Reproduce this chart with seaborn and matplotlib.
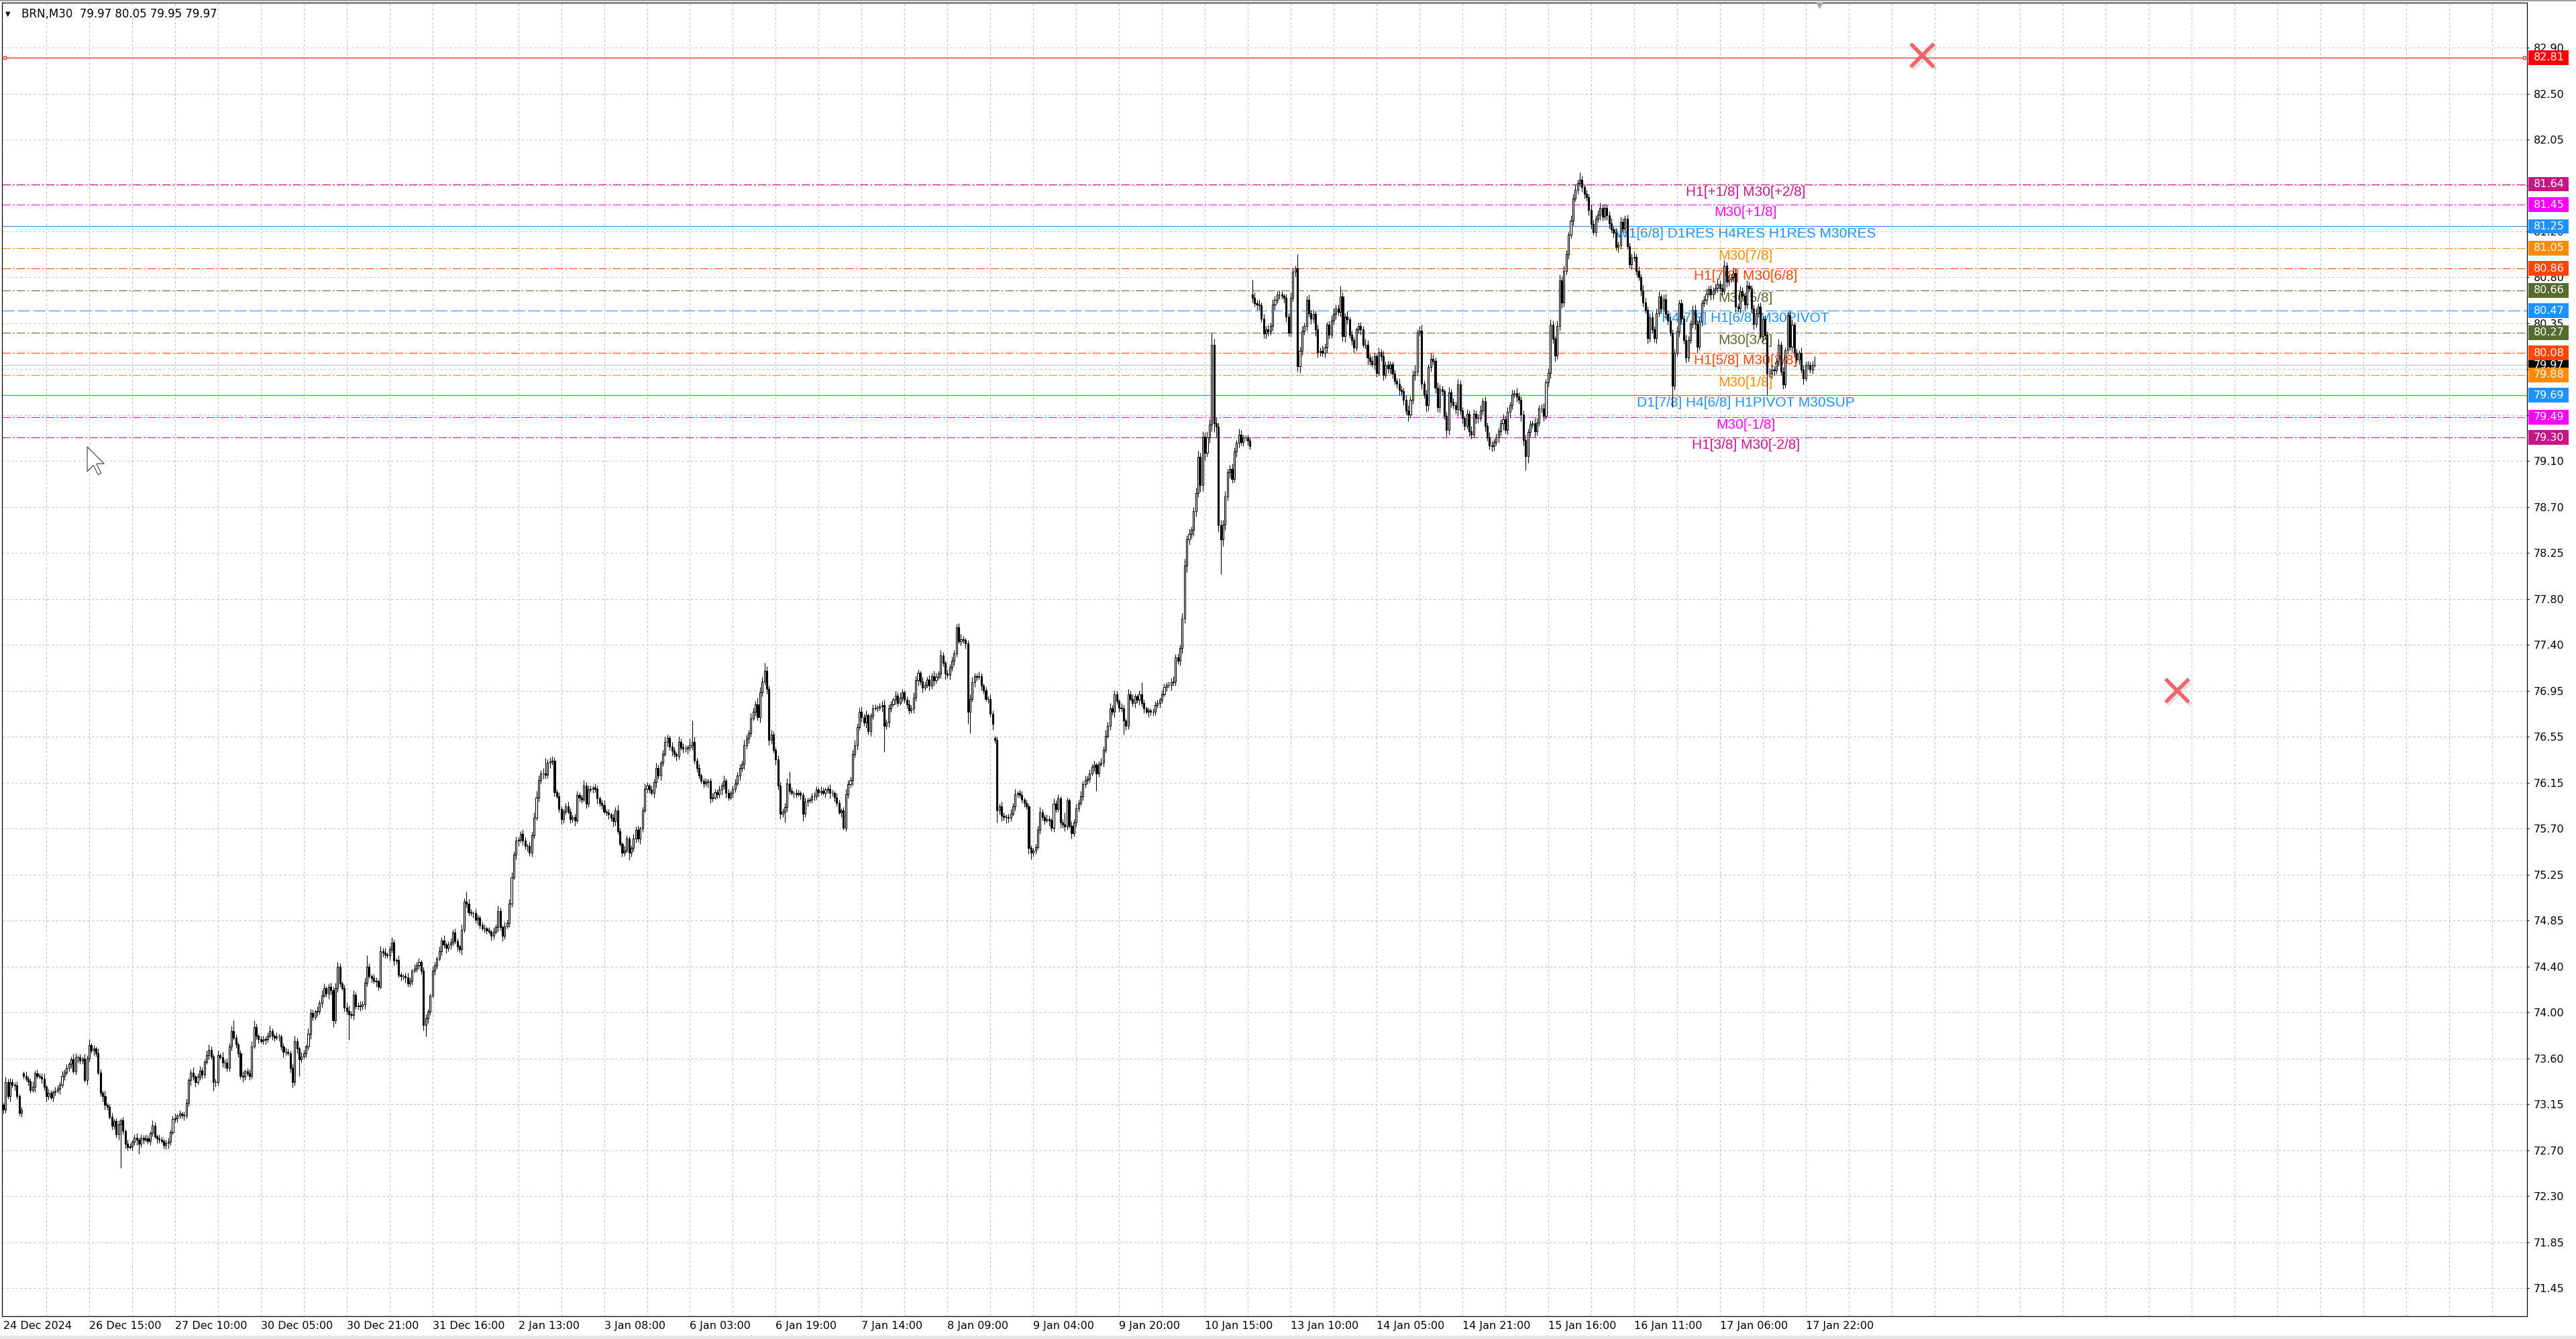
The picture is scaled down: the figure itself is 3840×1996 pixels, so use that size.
import matplotlib
matplotlib.use("Agg")
import matplotlib.pyplot as plt
import matplotlib.transforms as mtransforms
from matplotlib.patches import Rectangle, Polygon
import seaborn as sns
import numpy as np
import pandas as pd

# BRN M30 closes, one per bar (24 Dec 2024 .. 17 Jan 2025)
closes = [
    73.10, 73.35, 73.22, 73.35, 73.33, 73.32, 73.22, 73.07, 73.09, 73.41,
    73.38, 73.36, 73.28, 73.31, 73.43, 73.41, 73.40, 73.38, 73.31, 73.22,
    73.25, 73.21, 73.26, 73.27, 73.29, 73.33, 73.41, 73.44, 73.48, 73.52,
    73.56, 73.45, 73.58, 73.58, 73.55, 73.57, 73.37, 73.57, 73.69, 73.64,
    73.66, 73.62, 73.44, 73.25, 73.22, 73.14, 73.12, 73.03, 72.95, 72.99,
    72.87, 72.96, 73.00, 72.90, 72.78, 72.75, 72.76, 72.80, 72.84, 72.82,
    72.78, 72.84, 72.82, 72.83, 72.81, 72.88, 72.95, 72.85, 72.83, 72.82,
    72.81, 72.77, 72.79, 72.80, 72.89, 73.01, 73.02, 73.04, 73.06, 73.05,
    73.04, 73.16, 73.37, 73.44, 73.40, 73.35, 73.40, 73.46, 73.42, 73.54,
    73.60, 73.65, 73.59, 73.35, 73.35, 73.60, 73.58, 73.53, 73.53, 73.48,
    73.68, 73.82, 73.76, 73.70, 73.62, 73.41, 73.40, 73.45, 73.43, 73.41,
    73.68, 73.86, 73.78, 73.75, 73.73, 73.74, 73.75, 73.78, 73.82, 73.78,
    73.76, 73.77, 73.77, 73.68, 73.63, 73.63, 73.62, 73.48, 73.35, 73.73,
    73.66, 73.56, 73.59, 73.62, 73.68, 73.80, 73.99, 73.95, 74.00, 74.01,
    74.08, 74.15, 74.22, 74.17, 74.23, 74.20, 73.92, 74.22, 74.42, 74.26,
    74.22, 74.04, 74.01, 73.98, 73.97, 74.16, 74.05, 74.06, 74.05, 74.07,
    74.27, 74.42, 74.33, 74.31, 74.29, 74.28, 74.23, 74.56, 74.55, 74.53,
    74.52, 74.58, 74.64, 74.47, 74.48, 74.34, 74.33, 74.33, 74.32, 74.26,
    74.29, 74.38, 74.40, 74.43, 74.46, 74.38, 73.88, 73.94, 74.00, 74.15,
    74.38, 74.43, 74.49, 74.56, 74.66, 74.62, 74.59, 74.62, 74.64, 74.73,
    74.65, 74.60, 74.58, 74.76, 75.02, 75.00, 74.92, 74.91, 74.91, 74.85,
    74.87, 74.80, 74.77, 74.77, 74.75, 74.74, 74.70, 74.74, 74.78, 74.93,
    74.78, 74.70, 74.79, 74.82, 75.00, 75.24, 75.45, 75.58, 75.59, 75.64,
    75.58, 75.53, 75.53, 75.47, 75.63, 75.79, 75.98, 76.14, 76.20, 76.20,
    76.19, 76.30, 76.31, 76.32, 76.03, 75.99, 75.87, 75.78, 75.85, 75.90,
    75.85, 75.78, 75.80, 75.77, 76.00, 75.98, 75.96, 76.09, 75.92, 76.05,
    76.06, 76.07, 76.06, 75.97, 75.93, 75.91, 75.85, 75.84, 75.82, 75.79,
    75.76, 75.86, 75.67, 75.55, 75.47, 75.49, 75.60, 75.47, 75.51, 75.60,
    75.68, 75.60, 75.69, 75.86, 76.06, 76.09, 76.05, 76.02, 76.12, 76.25,
    76.18, 76.30, 76.38, 76.49, 76.53, 76.45, 76.41, 76.38, 76.36, 76.49,
    76.44, 76.43, 76.43, 76.44, 76.46, 76.49, 76.32, 76.25, 76.18, 76.13,
    76.11, 76.12, 76.13, 75.97, 75.98, 76.03, 76.01, 76.05, 76.09, 76.13,
    76.02, 75.98, 76.02, 76.06, 76.11, 76.18, 76.25, 76.29, 76.46, 76.52,
    76.57, 76.71, 76.77, 76.84, 76.72, 76.95, 77.05, 77.15, 76.98, 76.51,
    76.56, 76.42, 76.33, 76.09, 75.83, 75.85, 75.89, 76.11, 76.04, 76.02,
    76.02, 76.01, 76.02, 76.00, 75.83, 75.94, 75.95, 75.96, 75.99, 75.99,
    76.05, 76.03, 76.04, 76.02, 76.05, 76.06, 76.02, 76.02, 75.98, 75.93,
    75.84, 75.86, 75.70, 76.01, 76.10, 76.14, 76.38, 76.46, 76.63, 76.77,
    76.72, 76.67, 76.74, 76.59, 76.73, 76.80, 76.81, 76.81, 76.82, 76.83,
    76.64, 76.67, 76.80, 76.84, 76.88, 76.92, 76.85, 76.90, 76.95, 76.88,
    76.84, 76.78, 76.80, 76.90, 77.06, 77.13, 77.05, 76.99, 77.02, 77.07,
    77.01, 77.10, 77.06, 77.09, 77.12, 77.29, 77.22, 77.12, 77.11, 77.18,
    77.24, 77.31, 77.55, 77.42, 77.44, 77.43, 77.40, 76.77, 76.89, 77.04,
    77.10, 77.09, 77.10, 77.01, 76.97, 76.89, 76.89, 76.75, 76.66, 76.51,
    75.86, 75.90, 75.81, 75.80, 75.80, 75.79, 75.83, 75.90, 76.01, 76.02,
    76.00, 75.96, 75.93, 75.90, 75.51, 75.47, 75.49, 75.52, 75.68, 75.84,
    75.80, 75.77, 75.78, 75.77, 75.70, 75.92, 75.87, 75.97, 75.75, 75.73,
    75.71, 75.95, 75.72, 75.65, 75.75, 75.88, 75.93, 75.99, 76.10, 76.14,
    76.15, 76.20, 76.26, 76.28, 76.20, 76.29, 76.30, 76.42, 76.55, 76.64,
    76.80, 76.77, 76.93, 76.87, 76.81, 76.80, 76.69, 76.64, 76.93, 76.89,
    76.85, 76.91, 76.88, 76.93, 76.85, 76.80, 76.77, 76.78, 76.77, 76.77,
    76.83, 76.85, 76.88, 76.93, 77.00, 77.02, 77.02, 77.04, 77.05, 77.27,
    77.24, 77.36, 77.63, 78.12, 78.36, 78.41, 78.45, 78.62, 78.79, 79.12,
    78.86, 79.31, 79.16, 79.30, 79.42, 80.16, 79.43, 79.40, 78.49, 78.36,
    78.50, 78.76, 78.98, 79.01, 78.92, 79.17, 79.25, 79.33, 79.26, 79.30,
    79.30, 79.27, 79.22, 80.59, 80.54, 80.53, 80.52, 80.40, 80.26, 80.30,
    80.28, 80.33, 80.53, 80.57, 80.62, 80.62, 80.61, 80.59, 80.42, 80.27,
    80.59, 80.83, 80.86, 79.96, 80.10, 80.28, 80.33, 80.57, 80.45, 80.40,
    80.44, 80.30, 80.09, 80.10, 80.08, 80.13, 80.34, 80.25, 80.38, 80.44,
    80.49, 80.46, 80.60, 80.24, 80.42, 80.39, 80.25, 80.20, 80.13, 80.30,
    80.33, 80.30, 80.16, 80.16, 80.04, 80.01, 79.98, 80.05, 79.90, 80.09,
    80.05, 79.88, 79.97, 79.94, 79.98, 79.89, 79.82, 79.80, 79.74, 79.73,
    79.65, 79.55, 79.51, 79.65, 79.88, 79.91, 80.27, 80.29, 79.80, 79.70,
    79.60, 79.95, 80.03, 80.01, 79.76, 79.58, 79.75, 79.73, 79.50, 79.37,
    79.72, 79.63, 79.60, 79.56, 79.79, 79.55, 79.48, 79.41, 79.52, 79.36,
    79.33, 79.52, 79.48, 79.48, 79.55, 79.64, 79.41, 79.30, 79.23, 79.22,
    79.26, 79.30, 79.36, 79.43, 79.47, 79.37, 79.54, 79.60, 79.70, 79.71,
    79.68, 79.65, 79.51, 79.28, 79.13, 79.35, 79.42, 79.43, 79.36, 79.44,
    79.57, 79.57, 79.50, 79.81, 79.90, 80.34, 80.21, 80.06, 80.33, 80.75,
    80.55, 80.84, 80.99, 81.17, 81.30, 81.51, 81.59, 81.65, 81.68, 81.61,
    81.55, 81.52, 81.40, 81.27, 81.20, 81.32, 81.36, 81.42, 81.34, 81.42,
    81.35, 81.28, 81.22, 81.19, 81.06, 81.08, 81.29, 81.23, 81.32, 81.07,
    80.90, 80.96, 80.97, 80.84, 80.78, 80.66, 80.55, 80.48, 80.22, 80.41,
    80.30, 80.22, 80.45, 80.60, 80.49, 80.58, 80.44, 80.38, 80.27, 79.78,
    80.08, 80.28, 80.54, 80.40, 80.20, 80.04, 80.20, 80.35, 80.48, 80.35,
    80.14, 80.37, 80.54, 80.57, 80.63, 80.67, 80.62, 80.66, 80.68, 80.72,
    80.68, 80.65, 80.89, 80.74, 80.76, 80.78, 80.82, 80.51, 80.49, 80.65,
    80.61, 80.53, 80.70, 80.68, 80.49, 80.35, 80.45, 80.51, 80.24, 80.39,
    80.25, 79.89, 79.89, 79.93, 79.92, 80.00, 80.16, 79.91, 79.79, 80.11,
    80.43, 80.14, 80.34, 80.08, 80.02, 80.08, 79.93, 79.85, 79.97, 79.97,
    79.93, 79.97, 79.97,
]

# upper / lower shadow length of each candle, in cents
up_wick = [
    2, 5, 3, 4, 3, 2, 4, 2, 3, 2, 4, 3, 2, 5, 3, 4, 2, 3, 5, 2,
    4, 3, 2, 4, 3, 2, 5, 3, 4, 2, 3, 5, 4, 2, 3, 2, 4, 3, 6, 2,
    3, 2, 4, 3, 2, 5, 2, 3, 4, 2, 3, 4, 2, 3, 2, 4, 3, 2, 3, 4,
    2, 3, 2, 4, 3, 2, 5, 3, 2, 4, 3, 2, 3, 4, 2, 3, 4, 2, 3, 2,
    3, 4, 2, 3, 5, 2, 3, 4, 3, 2, 4, 5, 3, 2, 3, 4, 2, 5, 3, 4,
    3, 5, 10, 3, 2, 3, 4, 2, 3, 4, 5, 6, 3, 2, 3, 4, 2, 3, 5, 3,
    2, 4, 3, 2, 3, 4, 3, 2, 4, 5, 3, 2, 4, 3, 2, 5, 4, 3, 2, 4,
    3, 5, 4, 2, 3, 4, 3, 5, 4, 3, 2, 3, 4, 5, 3, 4, 2, 3, 4, 3,
    4, 10, 3, 2, 4, 3, 2, 5, 3, 4, 2, 3, 5, 3, 2, 4, 3, 2, 3, 4,
    3, 2, 4, 3, 4, 2, 3, 4, 3, 2, 4, 3, 2, 4, 3, 5, 2, 3, 4, 3,
    4, 3, 2, 5, 3, 9, 4, 3, 2, 4, 3, 2, 3, 4, 2, 3, 2, 4, 3, 5,
    3, 2, 4, 3, 4, 5, 3, 4, 2, 3, 4, 3, 2, 4, 3, 5, 6, 4, 3, 5,
    14, 3, 4, 4, 3, 2, 4, 3, 2, 3, 4, 3, 2, 3, 4, 3, 2, 5, 3, 4,
    3, 2, 4, 3, 2, 3, 4, 2, 3, 2, 4, 3, 5, 3, 2, 4, 3, 2, 3, 4,
    3, 4, 2, 3, 5, 3, 2, 4, 3, 5, 3, 2, 4, 5, 3, 2, 4, 3, 2, 5,
    3, 4, 3, 2, 6, 20, 5, 3, 4, 2, 3, 4, 2, 3, 4, 3, 2, 4, 3, 5,
    3, 4, 2, 3, 4, 3, 4, 3, 5, 4, 3, 5, 4, 3, 6, 5, 4, 7, 4, 3,
    4, 3, 2, 4, 3, 3, 4, 5, 11, 3, 2, 4, 3, 2, 3, 4, 3, 2, 3, 4,
    3, 2, 4, 3, 2, 3, 4, 3, 2, 4, 3, 2, 3, 5, 4, 3, 4, 5, 3, 4,
    5, 3, 4, 2, 3, 4, 3, 2, 3, 4, 5, 3, 4, 3, 2, 4, 3, 5, 3, 2,
    3, 4, 3, 5, 4, 3, 2, 4, 3, 2, 4, 3, 5, 4, 3, 5, 3, 2, 4, 3,
    4, 3, 3, 4, 5, 3, 2, 3, 4, 5, 3, 2, 4, 3, 2, 3, 2, 4, 3, 2,
    3, 2, 4, 3, 2, 3, 4, 3, 5, 2, 3, 4, 2, 3, 2, 3, 2, 3, 4, 5,
    3, 2, 4, 3, 2, 5, 3, 4, 2, 3, 11, 3, 2, 4, 3, 4, 3, 5, 3, 4,
    3, 4, 3, 4, 2, 3, 4, 3, 5, 4, 5, 3, 4, 3, 2, 4, 3, 2, 5, 3,
    4, 3, 2, 4, 11, 3, 2, 3, 2, 3, 4, 3, 2, 4, 3, 2, 3, 4, 5, 3,
    4, 3, 5, 6, 4, 5, 3, 4, 5, 6, 4, 5, 4, 6, 5, 10, 5, 6, 4, 5,
    4, 5, 3, 4, 5, 4, 3, 5, 4, 3, 2, 3, 4, 14, 5, 3, 4, 3, 4, 3,
    4, 3, 5, 4, 3, 4, 3, 2, 4, 3, 5, 4, 3, 13, 4, 5, 3, 4, 5, 3,
    4, 3, 4, 3, 5, 4, 3, 4, 5, 6, 4, 4, 10, 4, 3, 5, 3, 4, 3, 2,
    3, 4, 3, 5, 4, 3, 4, 3, 2, 4, 3, 5, 3, 4, 3, 2, 4, 3, 5, 4,
    3, 4, 5, 3, 4, 6, 3, 4, 5, 3, 4, 3, 5, 4, 3, 5, 4, 3, 2, 4,
    5, 3, 4, 3, 5, 4, 3, 2, 4, 3, 5, 4, 3, 4, 5, 3, 4, 3, 5, 4,
    3, 4, 3, 4, 5, 3, 4, 3, 4, 3, 5, 4, 3, 4, 5, 3, 4, 3, 5, 4,
    3, 4, 5, 3, 4, 5, 4, 3, 5, 6, 4, 5, 4, 3, 5, 4, 5, 3, 7, 4,
    3, 4, 3, 5, 4, 3, 4, 5, 3, 4, 3, 4, 5, 3, 4, 3, 5, 4, 3, 4,
    3, 4, 5, 3, 4, 3, 5, 4, 3, 4, 5, 3, 4, 5, 3, 4, 5, 3, 4, 3,
    4, 5, 3, 4, 3, 5, 4, 3, 4, 5, 3, 4, 3, 4, 5, 3, 4, 3, 4, 5,
    3, 4, 5, 3, 4, 3, 5, 4, 3, 5, 4, 3, 5, 4, 3, 4, 5, 3, 4, 3,
    4, 3, 5, 4, 3, 4, 5, 3, 4, 2, 3, 4, 5, 3, 4, 3, 5, 4, 3, 4,
    3, 4, 8,
]
dn_wick = [
    4, 3, 2, 5, 3, 4, 2, 3, 4, 3, 2, 4, 3, 2, 5, 3, 2, 4, 3, 5,
    3, 2, 4, 3, 2, 5, 3, 4, 2, 3, 4, 2, 3, 5, 3, 3, 2, 4, 3, 2,
    4, 3, 2, 3, 5, 4, 3, 2, 4, 3, 3, 5, 40, 3, 4, 3, 2, 4, 3, 5,
    9, 3, 4, 2, 3, 4, 3, 2, 4, 3, 2, 3, 4, 5, 3, 2, 3, 4, 2, 3,
    4, 2, 3, 5, 3, 4, 2, 3, 4, 3, 2, 4, 3, 8, 4, 3, 2, 4, 5, 3,
    3, 4, 2, 3, 4, 3, 5, 3, 2, 4, 3, 2, 3, 4, 2, 3, 4, 3, 2, 4,
    3, 2, 4, 3, 5, 3, 2, 4, 5, 3, 4, 15, 3, 2, 4, 3, 5, 3, 2, 4,
    3, 4, 2, 3, 5, 4, 6, 3, 4, 3, 2, 4, 3, 24, 3, 4, 2, 3, 4, 3,
    4, 3, 2, 4, 3, 5, 3, 2, 4, 3, 2, 5, 3, 4, 3, 2, 4, 3, 5, 3,
    3, 4, 2, 3, 4, 3, 5, 11, 4, 3, 2, 4, 3, 2, 4, 3, 5, 3, 4, 3,
    2, 4, 3, 5, 3, 4, 3, 2, 4, 3, 5, 3, 2, 4, 3, 2, 4, 3, 2, 4,
    3, 5, 3, 2, 4, 3, 2, 4, 5, 3, 4, 3, 5, 3, 4, 3, 2, 4, 3, 5,
    4, 3, 5, 3, 4, 2, 3, 5, 4, 3, 2, 4, 3, 5, 3, 4, 3, 2, 4, 3,
    2, 4, 3, 5, 3, 4, 2, 3, 4, 3, 5, 4, 3, 2, 4, 3, 2, 7, 4, 3,
    4, 3, 5, 3, 2, 4, 3, 2, 4, 5, 3, 4, 3, 2, 4, 3, 5, 3, 4, 3,
    2, 4, 3, 5, 3, 4, 3, 4, 3, 2, 4, 3, 5, 4, 3, 2, 4, 3, 5, 3,
    4, 3, 2, 4, 3, 2, 4, 3, 5, 3, 4, 3, 2, 4, 3, 5, 4, 3, 4, 5,
    4, 3, 5, 4, 5, 3, 10, 4, 3, 2, 4, 3, 2, 4, 7, 3, 4, 2, 3, 4,
    3, 4, 3, 2, 4, 3, 5, 3, 4, 3, 2, 4, 2, 3, 4, 3, 5, 3, 4, 3,
    4, 3, 5, 3, 4, 3, 2, 4, 3, 5, 24, 3, 4, 3, 2, 4, 3, 2, 4, 3,
    4, 3, 2, 4, 3, 5, 3, 4, 2, 3, 4, 3, 5, 3, 2, 4, 3, 5, 3, 4,
    3, 4, 3, 2, 4, 3, 5, 11, 20, 3, 4, 3, 2, 4, 3, 2, 4, 3, 6, 3,
    11, 4, 5, 3, 6, 4, 3, 2, 4, 3, 2, 3, 4, 3, 5, 6, 4, 3, 2, 4,
    3, 4, 2, 5, 3, 4, 3, 2, 5, 3, 4, 3, 2, 5, 3, 4, 3, 2, 4, 3,
    4, 3, 2, 4, 16, 3, 2, 4, 3, 2, 4, 3, 5, 3, 4, 3, 13, 4, 3, 2,
    3, 4, 3, 5, 3, 4, 2, 5, 3, 4, 3, 2, 4, 3, 2, 4, 3, 5, 3, 4,
    3, 4, 5, 4, 6, 5, 4, 6, 5, 4, 6, 5, 7, 4, 5, 6, 8, 10, 6, 32,
    6, 5, 4, 5, 4, 3, 5, 4, 3, 4, 3, 4, 3, 4, 3, 5, 4, 3, 4, 5,
    4, 3, 4, 5, 3, 4, 3, 4, 5, 3, 4, 3, 4, 5, 6, 4, 3, 4, 3, 5,
    4, 6, 5, 4, 3, 4, 5, 4, 3, 4, 5, 3, 4, 5, 6, 4, 3, 4, 5, 3,
    4, 5, 3, 4, 6, 4, 3, 5, 4, 3, 4, 5, 3, 4, 5, 4, 3, 4, 5, 4,
    5, 4, 6, 3, 4, 5, 4, 3, 5, 4, 6, 5, 4, 3, 5, 4, 5, 4, 3, 6,
    4, 5, 3, 4, 6, 4, 5, 4, 3, 5, 4, 3, 5, 4, 3, 4, 5, 3, 4, 5,
    4, 3, 5, 4, 6, 3, 4, 5, 4, 3, 5, 4, 6, 5, 13, 6, 4, 3, 5, 4,
    3, 4, 5, 3, 4, 5, 4, 6, 3, 4, 5, 4, 3, 4, 3, 4, 3, 4, 3, 4,
    4, 3, 5, 4, 3, 4, 3, 5, 4, 3, 4, 5, 3, 4, 3, 5, 4, 3, 4, 3,
    4, 5, 3, 4, 3, 5, 4, 3, 5, 4, 3, 4, 5, 3, 4, 3, 5, 4, 3, 20,
    4, 3, 5, 4, 3, 5, 4, 3, 4, 5, 6, 3, 4, 3, 4, 3, 5, 4, 3, 4,
    3, 4, 3, 5, 4, 3, 4, 5, 3, 4, 3, 5, 4, 3, 4, 5, 3, 4, 3, 5,
    4, 20, 3, 4, 5, 3, 4, 3, 4, 3, 4, 3, 5, 4, 3, 4, 3, 6, 3, 4,
    3, 4, 2,
]

# opens that differ from the previous close (session gaps)
gap_opens = {0: 73.14, 9: 73.43, 439: 76.53, 553: 80.62}

x_labels = ["24 Dec 2024", "26 Dec 15:00", "27 Dec 10:00", "30 Dec 05:00",
            "30 Dec 21:00", "31 Dec 16:00", "2 Jan 13:00", "3 Jan 08:00",
            "6 Jan 03:00", "6 Jan 19:00", "7 Jan 14:00", "8 Jan 09:00",
            "9 Jan 04:00", "9 Jan 20:00", "10 Jan 15:00", "13 Jan 10:00",
            "14 Jan 05:00", "14 Jan 21:00", "15 Jan 16:00", "16 Jan 11:00",
            "17 Jan 06:00", "17 Jan 22:00"]
y_labels = ["82.90", "82.50", "82.05", "81.65", "81.20", "80.80", "80.35",
            "79.95", "79.50", "79.10", "78.70", "78.25", "77.80", "77.40",
            "76.95", "76.55", "76.15", "75.70", "75.25", "74.85", "74.40",
            "74.00", "73.60", "73.15", "72.70", "72.30", "71.85", "71.45"]

# Murrey-math style levels
level_prices = [81.64, 81.45, 81.25, 81.05, 80.86, 80.66, 80.47,
                80.27, 80.08, 79.88, 79.69, 79.49, 79.30]
level_texts = ["H1[+1/8] M30[+2/8]", "M30[+1/8]",
               "W1[6/8] D1RES H4RES H1RES M30RES", "M30[7/8]",
               "H1[7/8] M30[6/8]", "M30[5/8]", "H4[7/8] H1[6/8] M30PIVOT",
               "M30[3/8]", "H1[5/8] M30[2/8]", "M30[1/8]",
               "D1[7/8] H4[6/8] H1PIVOT M30SUP", "M30[-1/8]",
               "H1[3/8] M30[-2/8]"]
level_colors = ["#C71585", "#FF00FF", "#1E90FF", "#FF8C00", "#FF4500",
                "#556B2F", "#1E90FF", "#556B2F", "#FF4500", "#FF8C00",
                "#1E90FF", "#FF00FF", "#C71585"]
level_kinds = ["dashdot", "dashdot", "solid", "dashdot", "dashdot", "dashdot",
               "dash", "dashdot", "dashdot", "dashdot", "solid", "dashdot",
               "dashdot"]

red_line_price = 82.81
current_price = 79.97
cross_points_x = [849.5, 962.4]
cross_points_y = [82.83, 76.97]

n = min(len(closes), len(up_wick), len(dn_wick))
df = pd.DataFrame({"bar": np.arange(n), "close": closes[:n]})
df["open"] = df["close"].shift(1)
for i, v in gap_opens.items():
    df.loc[i, "open"] = v
df["high"] = df[["open", "close"]].max(axis=1) + np.array(up_wick[:n]) / 100
df["low"] = df[["open", "close"]].min(axis=1) - np.array(dn_wick[:n]) / 100
up = df["close"] >= df["open"]

sns.set_style("white")
plt.rcParams["font.family"] = ["DejaVu Sans"]
plt.rcParams["lines.scale_dashes"] = False

W, H = 3840, 1996
fig = plt.figure(figsize=(W / 100, H / 100), dpi=100)
fig.patch.set_facecolor("white")
ax = fig.add_axes([3 / W, 1 - 1962 / H, 3764 / W, 1958 / H])
ax.set_facecolor("white")
ax.set_xlim(-0.59, 1117.4)
ax.set_ylim(71.191, 83.315)

styles = {"solid": "-", "dashdot": (0, (9, 2.4, 1.8, 2.4)), "dash": (0, (13, 3.6))}
grid_ls = (0, (2.4, 2.4))

# grid
yticks = np.linspace(82.90, 71.45, len(y_labels))
ax.vlines(np.arange(19, 1118, 19), 71.191, 83.315, colors="#C0C0C0",
          linestyles=[grid_ls], linewidth=0.75, zorder=0.5)
ax.hlines(yticks, -0.59, 1117.4, colors="#C0C0C0", linestyles=[grid_ls],
          linewidth=0.75, zorder=0.5)

# level lines and their captions
label_x = 771.4
txt_tr = mtransforms.offset_copy(ax.transData, fig=fig, x=0, y=-2, units="dots")
for p, t, c, k in zip(level_prices, level_texts, level_colors, level_kinds):
    ax.axhline(p, color=c, linestyle=styles[k], linewidth=0.8, zorder=1.5)
    ax.text(label_x, p, t, color=c, fontsize=15, family=["Liberation Sans", "DejaVu Sans"],
            ha="center", va="top", transform=txt_tr, zorder=2)
ax.axhline(current_price, color="#C0C0C0", linewidth=0.8, zorder=1.4)
ax.plot([0.7, 1116.2], [red_line_price, red_line_price], color="#FF0000",
        linewidth=0.8, zorder=1.6)
ax.plot([0.7, 1116.2], [red_line_price, red_line_price], linestyle="none",
        marker="s", markersize=3.2, markerfacecolor="white",
        markeredgecolor="#FF0000", markeredgewidth=0.8, zorder=1.7, clip_on=False)

# candles
ax.vlines(df["bar"], df["low"], df["high"], colors="black", linewidth=0.8, zorder=3)
body_lo = df[["open", "close"]].min(axis=1)
body_h = (df["close"] - df["open"]).abs()
ax.bar(df["bar"][up], body_h[up], bottom=body_lo[up], width=0.62,
       color="white", edgecolor="black", linewidth=0.8, zorder=4)
ax.bar(df["bar"][~up], body_h[~up], bottom=body_lo[~up], width=0.62,
       color="black", edgecolor="black", linewidth=0.8, zorder=4)

# red crosses with soft shadow
shadow_tr = mtransforms.offset_copy(ax.transData, fig=fig, x=3, y=-4, units="dots")
ax.scatter(cross_points_x, cross_points_y, marker="x", s=620, linewidths=4.0,
           color="#9A9A9A", alpha=0.25, transform=shadow_tr, zorder=5)
sns.scatterplot(x=cross_points_x, y=cross_points_y, marker="x", s=620,
                linewidth=4.0, color="#EE5A60", alpha=0.92, ax=ax, zorder=6,
                legend=False)

# axes, ticks
for sp in ax.spines.values():
    sp.set_visible(True)
    sp.set_color("black")
    sp.set_linewidth(0.9)
ax.set_xticks(np.arange(len(x_labels)) * 38)
ax.set_xticklabels(x_labels, ha="left", fontsize=11.5)
ax.yaxis.tick_right()
ax.set_yticks(yticks)
ax.set_yticklabels(y_labels, fontsize=11.5)
ax.tick_params(axis="x", direction="out", length=2.4, width=0.8, pad=2.5, colors="black")
ax.tick_params(axis="y", direction="out", length=2.4, width=0.8, pad=4.5, colors="black")
ax.set_xlabel("")
ax.set_ylabel("")

# price boxes on the right scale
box_tr = mtransforms.blended_transform_factory(ax.transAxes, ax.transData)
box_h = 0.136
box_x0, box_w, box_tx = 1.00048, 0.01586, 1.00252


def price_box(price, color):
    ax.add_patch(Rectangle((box_x0, price - box_h / 2), box_w, box_h,
                           transform=box_tr, facecolor=color, edgecolor="none",
                           clip_on=False, zorder=10))
    ax.text(box_tx, price, f"{price:.2f}", transform=box_tr, color="white",
            fontsize=11.5, ha="left", va="center", clip_on=False, zorder=11)


price_box(current_price, "black")
for p, c in zip(level_prices, level_colors):
    price_box(p, c)
price_box(red_line_price, "#FF0000")

# chart-shift triangle at the top edge
ax.plot([n + 1.0], [83.29], marker="v", markersize=6, color="#A8A8A8",
        clip_on=False, zorder=12)

# header
last = df.iloc[-1]
fig.text(8 / W, 1 - 24 / H, "\u25BC", fontsize=7, color="black", va="baseline")
fig.text(32 / W, 1 - 26 / H,
         f"BRN,M30  {last['open']:.2f} {last['high']:.2f} {last['low']:.2f} {last['close']:.2f}",
         fontsize=12, color="black", va="baseline")

# window borders
fig.add_artist(Rectangle((0, 1 - 2 / H), 1, 2 / H, transform=fig.transFigure,
                         facecolor="#A0A0A0", edgecolor="none"))
fig.add_artist(Rectangle((0, 0), 1, 5 / H, transform=fig.transFigure,
                         facecolor="#E6E6E6", edgecolor="none"))

# mouse pointer
cur = [(0, 0), (0, 16), (4, 12), (7, 18), (9, 17), (6, 11), (11, 11)]
fig.add_artist(Polygon([((130 + u * 2.3) / W, 1 - (666 + v * 2.3) / H) for u, v in cur],
                       closed=True, transform=fig.transFigure, facecolor="white",
                       edgecolor="#505050", linewidth=0.9))

fig.savefig("out.png", dpi=100, facecolor="white")
